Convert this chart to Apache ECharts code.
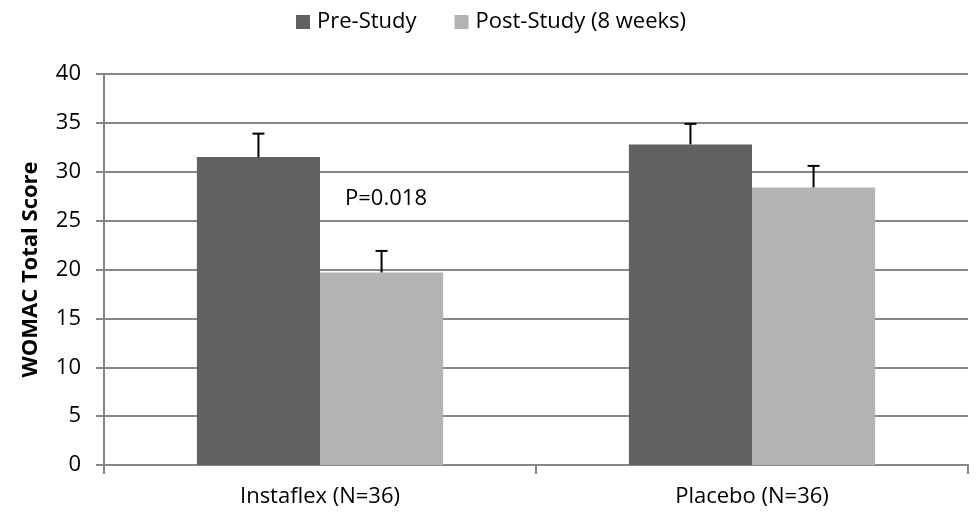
<!DOCTYPE html>
<html>
<head>
<meta charset="utf-8">
<script src="https://cdn.jsdelivr.net/npm/echarts@6/dist/echarts.min.js"></script>
<style>
  html, body { margin: 0; padding: 0; background: #fff; }
  #chart { width: 979px; height: 520px; }
</style>
</head>
<body>
<div id="chart"></div>
<script>
var categories = ['Instaflex (N=36)', 'Placebo (N=36)'];
var preStudy = [31.5, 32.8];
var postStudy = [19.7, 28.4];
var preErr = [2.4, 2.1];
var postErr = [2.2, 2.2];
var yTicks = [0, 5, 10, 15, 20, 25, 30, 35, 40];
var note = { text: 'P=0.018', category: 0, value: 27.2 };

var font = "'Open Sans', 'Noto Sans', sans-serif";
var barPct = 0.285;

function errorSeries(name, values, errs, side) {
  var data = values.map(function (v, i) { return [i, v, v + errs[i]]; });
  return {
    name: name + ' err',
    type: 'custom',
    z: 5,
    silent: true,
    data: data,
    renderItem: function (params, api) {
      var band = api.size([1, 0])[0];
      var off = side * band * barPct / 2;
      var lo = api.coord([api.value(0), api.value(1)]);
      var hi = api.coord([api.value(0), api.value(2)]);
      var x = lo[0] + off;
      var st = { stroke: '#000', lineWidth: 2 };
      return {
        type: 'group',
        children: [
          { type: 'line', shape: { x1: x, y1: lo[1], x2: x, y2: hi[1] }, style: st },
          { type: 'line', shape: { x1: x - 6, y1: hi[1], x2: x + 6, y2: hi[1] }, style: st }
        ]
      };
    }
  };
}

var chart = echarts.init(document.getElementById('chart'));
chart.setOption({
  animation: false,
  textStyle: { fontFamily: font },
  legend: {
    top: 6,
    left: 291,
    icon: 'rect',
    itemWidth: 14,
    itemHeight: 14,
    itemGap: 38,
    textStyle: { fontSize: 22, color: '#000', fontFamily: font, padding: [0, 0, 0, 2] },
    data: ['Pre-Study', 'Post-Study (8 weeks)']
  },
  grid: { left: 104, right: 11, top: 74, bottom: 55 },
  xAxis: {
    type: 'category',
    data: categories,
    axisLine: { lineStyle: { color: '#868686', width: 2 } },
    axisTick: { show: true, length: 9, lineStyle: { color: '#868686', width: 2 } },
    axisLabel: { fontSize: 22, color: '#000', margin: 21 }
  },
  yAxis: {
    type: 'value',
    min: yTicks[0],
    max: yTicks[yTicks.length - 1],
    interval: 5,
    name: 'WOMAC Total Score',
    nameLocation: 'middle',
    nameGap: 62,
    nameTextStyle: { fontSize: 22, fontWeight: 'bold', color: '#000' },
    axisLine: { show: true, lineStyle: { color: '#868686', width: 2 } },
    axisTick: { show: true, length: 8, lineStyle: { color: '#868686', width: 2 } },
    axisLabel: { fontSize: 22, color: '#000', margin: 23 },
    splitLine: { lineStyle: { color: '#868686', width: 2 } }
  },
  series: [
    {
      name: 'Pre-Study',
      type: 'bar',
      barWidth: (barPct * 100) + '%',
      barGap: '0%',
      itemStyle: { color: '#616161' },
      data: preStudy
    },
    {
      name: 'Post-Study (8 weeks)',
      type: 'bar',
      barWidth: (barPct * 100) + '%',
      barGap: '0%',
      itemStyle: { color: '#b3b3b3' },
      data: postStudy
    },
    errorSeries('Pre-Study', preStudy, preErr, -1),
    errorSeries('Post-Study (8 weeks)', postStudy, postErr, 1),
    {
      name: 'note',
      type: 'scatter',
      symbolSize: 0,
      silent: true,
      itemStyle: { opacity: 1 },
      data: [[note.category, note.value]],
      label: {
        show: true,
        position: 'inside',
        offset: [66, 0],
        formatter: note.text,
        fontSize: 22,
        color: '#000',
        opacity: 1
      }
    }
  ]
});
</script>
</body>
</html>
